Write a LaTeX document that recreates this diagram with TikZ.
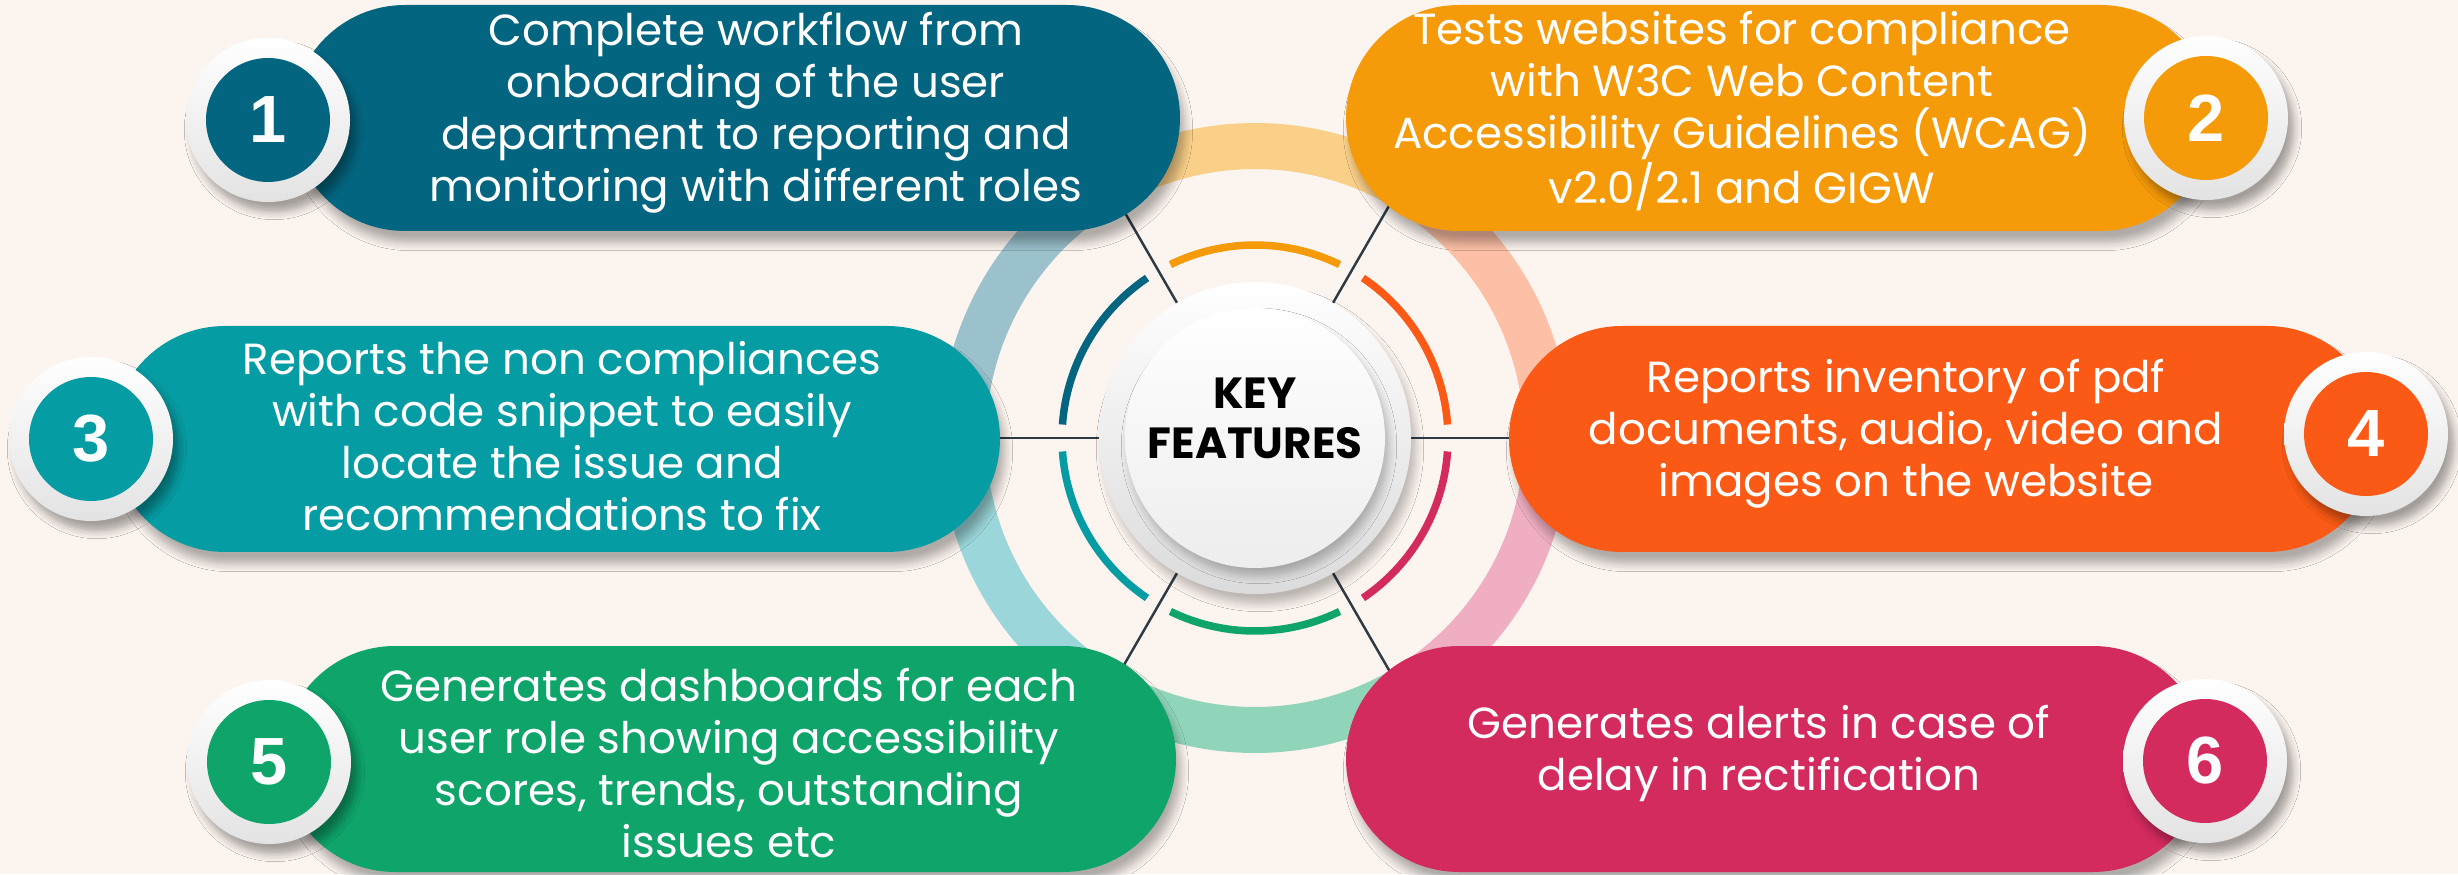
\documentclass[tikz,border=0pt]{standalone}
\usepackage{fontspec}
\setmainfont{Poppins}
\newfontfamily\digitfont{Liberation Sans}
\usetikzlibrary{shapes.misc,shadows.blur,calc}

\definecolor{bgcol}{HTML}{FCF4EF}
\definecolor{colA}{HTML}{03657F}
\definecolor{colB}{HTML}{F59A08}
\definecolor{colC}{HTML}{069CA3}
\definecolor{colD}{HTML}{FA5A15}
\definecolor{colE}{HTML}{0EA46A}
\definecolor{colF}{HTML}{D42B5F}
\definecolor{spokecol}{HTML}{2E3A44}

\pgfdeclarelayer{background}
\pgfsetlayers{background,main}

\tikzset{
  pill/.style={rounded rectangle, minimum height=2.26cm, inner sep=0pt,
    blur shadow={shadow xshift=0.5mm, shadow yshift=-1.2mm, shadow blur steps=8, shadow opacity=30}},
  pilltext/.style={text=white, align=center, font=\fontsize{12.4}{14.8}\selectfont},
  numring/.style={circle, minimum size=1.64cm, inner sep=0pt, top color=white, bottom color=gray!22,
    blur shadow={shadow xshift=0.6mm, shadow yshift=-1mm, shadow blur steps=6, shadow opacity=35}},
  numdisc/.style={circle, minimum size=1.24cm, inner sep=0pt, text=white,
    font=\digitfont\bfseries\fontsize{19}{19}\selectfont},
  spoke/.style={draw=spokecol, line width=0.7pt},
}

\begin{document}
\begin{tikzpicture}
\useasboundingbox (0,0) rectangle (24.58,8.74);

\node[pill, fill=colA, minimum width=8.88cm] (pill1) at (7.36,7.56) {};
\node[pill, fill=colB, minimum width=8.67cm] (pill2) at (17.795,7.56) {};
\node[pill, fill=colC, minimum width=8.88cm] (pill3) at (5.56,4.35) {};
\node[pill, fill=colD, minimum width=8.71cm] (pill4) at (19.445,4.35) {};
\node[pill, fill=colE, minimum width=8.94cm] (pill5) at (7.29,1.15) {};
\node[pill, fill=colF, minimum width=8.60cm] (pill6) at (17.76,1.15) {};

\node[pilltext] (text1) at (7.56,7.61) {Complete workflow from\\onboarding of the user\\department to reporting and\\monitoring with different roles};
\node[pilltext] (text2) at (17.42,7.63) {Tests websites for compliance\\with W3C Web Content\\Accessibility Guidelines (WCAG)\\v2.0/2.1 and GIGW};
\node[pilltext] (text3) at (5.62,4.38) {Reports the non compliances\\with code snippet to easily\\locate the issue and\\recommendations to fix};
\node[pilltext] (text4) at (19.06,4.40) {Reports inventory of pdf\\documents, audio, video and\\images on the website};
\node[pilltext] (text5) at (7.29,1.11) {Generates dashboards for each\\user role showing accessibility\\scores, trends, outstanding\\issues etc};
\node[pilltext] (text6) at (17.59,1.21) {Generates alerts in case of\\delay in rectification};

\node[numring] (ring1) at (2.68,7.54) {};
\node[numdisc, fill=colA] (num1) at (ring1) {1};
\node[numring] (ring2) at (22.06,7.56) {};
\node[numdisc, fill=colB] (num2) at (ring2) {2};
\node[numring] (ring3) at (0.91,4.35) {};
\node[numdisc, fill=colC] (num3) at (ring3) {3};
\node[numring] (ring4) at (23.66,4.40) {};
\node[numdisc, fill=colD] (num4) at (ring4) {4};
\node[numring] (ring5) at (2.69,1.12) {};
\node[numdisc, fill=colE] (num5) at (ring5) {5};
\node[numring] (ring6) at (22.05,1.13) {};
\node[numdisc, fill=colF] (num6) at (ring6) {6};

\node[circle, minimum size=3.12cm, inner sep=0pt, top color=white, bottom color=gray!28,
  blur shadow={shadow xshift=0.5mm, shadow yshift=-1mm, shadow blur steps=8, shadow opacity=25}] (key) at (12.55,4.36) {};
\node[circle, minimum size=2.6cm, inner sep=0pt, top color=white, bottom color=gray!14,
  blur shadow={shadow xshift=0.4mm, shadow yshift=-0.8mm, shadow blur steps=6, shadow opacity=25}] (keydisc) at (key) {};
\node[align=center, font=\bfseries\fontsize{12.4}{14.3}\selectfont] (keylabel) at ([yshift=2mm]key.center) {KEY\\FEATURES};

\begin{pgfonlayer}{background}
\fill[bgcol] (0,0) rectangle (24.58,8.74);
\foreach \a/\c in {0/colD!38, 60/colB!48, 120/colA!40, 180/colC!40, 240/colE!46, 300/colF!38}
  \draw[line width=0.46cm, \c] ($(key.center)+(\a:2.92)$) arc[start angle=\a, end angle=\a+60, radius=2.92];
\foreach \a/\c in {0/colD, 60/colB, 120/colA, 180/colC, 240/colE, 300/colF}
  \draw[line width=0.075cm, \c] ($(key.center)+(\a+4:1.93)$) arc[start angle=\a+4, end angle=\a+56, radius=1.93];
\foreach \a [count=\i] in {120,60,180,0,240,300} {
  \coordinate (end\i) at ($(key.center)+(\a:3)$);
  \draw[spoke] (key.center) -- (end\i);
}
\end{pgfonlayer}
\end{tikzpicture}
\end{document}
